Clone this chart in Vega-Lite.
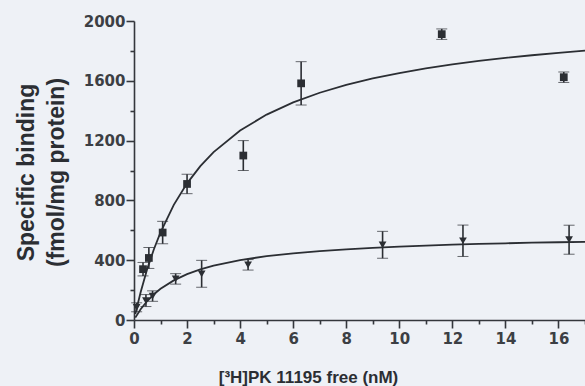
{
  "$schema": "https://vega.github.io/schema/vega-lite/v6.json",
  "autosize": {"type": "none"},
  "padding": {"left": 134, "top": 21, "right": 0, "bottom": 66},
  "width": 451,
  "height": 299,
  "background": "#eef1f6",
  "config": {
    "view": {"stroke": null},
    "axis": {"labelFont": "DejaVu Sans", "titleFont": "Liberation Sans", "labelColor": "#3c3f44", "titleColor": "#2b2e33", "domainColor": "#34373c", "tickColor": "#34373c", "grid": false, "domainWidth": 1.6, "tickWidth": 1.6}
  },
  "datasets": {
    "pts": [
      {"series": "A", "x": 0.34, "y": 340, "err": 45},
      {"series": "A", "x": 0.56, "y": 415, "err": 70},
      {"series": "A", "x": 1.08, "y": 585, "err": 75},
      {"series": "A", "x": 2.0, "y": 910, "err": 65},
      {"series": "A", "x": 4.12, "y": 1100, "err": 100},
      {"series": "A", "x": 6.3, "y": 1583, "err": 145},
      {"series": "A", "x": 11.6, "y": 1912, "err": 35},
      {"series": "A", "x": 16.2, "y": 1624, "err": 35},
      {"series": "B", "x": 0.1, "y": 85, "err": 30},
      {"series": "B", "x": 0.45, "y": 130, "err": 40},
      {"series": "B", "x": 0.7, "y": 160, "err": 35},
      {"series": "B", "x": 1.57, "y": 275, "err": 35},
      {"series": "B", "x": 2.55, "y": 309, "err": 90},
      {"series": "B", "x": 4.3, "y": 369, "err": 35},
      {"series": "B", "x": 9.37, "y": 503, "err": 90},
      {"series": "B", "x": 12.4, "y": 530, "err": 105},
      {"series": "B", "x": 16.4, "y": 537, "err": 97}
    ],
    "curves": [
      {"series": "A", "x": 0.05, "y": 40}, {"series": "A", "x": 0.25, "y": 186}, {"series": "A", "x": 0.5, "y": 342}, {"series": "A", "x": 0.75, "y": 473}, {"series": "A", "x": 1, "y": 586}, {"series": "A", "x": 1.5, "y": 770}, {"series": "A", "x": 2, "y": 914}, {"series": "A", "x": 2.5, "y": 1029}, {"series": "A", "x": 3, "y": 1123}, {"series": "A", "x": 4, "y": 1268}, {"series": "A", "x": 5, "y": 1374}, {"series": "A", "x": 6, "y": 1456}, {"series": "A", "x": 7, "y": 1520}, {"series": "A", "x": 8, "y": 1573}, {"series": "A", "x": 9, "y": 1616}, {"series": "A", "x": 10, "y": 1652}, {"series": "A", "x": 11, "y": 1683}, {"series": "A", "x": 12, "y": 1710}, {"series": "A", "x": 13, "y": 1733}, {"series": "A", "x": 14, "y": 1753}, {"series": "A", "x": 15, "y": 1771}, {"series": "A", "x": 16, "y": 1787}, {"series": "A", "x": 17, "y": 1802},
      {"series": "B", "x": 0.05, "y": 16}, {"series": "B", "x": 0.25, "y": 72}, {"series": "B", "x": 0.5, "y": 127}, {"series": "B", "x": 0.75, "y": 172}, {"series": "B", "x": 1, "y": 209}, {"series": "B", "x": 1.5, "y": 265}, {"series": "B", "x": 2, "y": 307}, {"series": "B", "x": 2.5, "y": 338}, {"series": "B", "x": 3, "y": 364}, {"series": "B", "x": 4, "y": 401}, {"series": "B", "x": 5, "y": 427}, {"series": "B", "x": 6, "y": 446}, {"series": "B", "x": 7, "y": 461}, {"series": "B", "x": 8, "y": 473}, {"series": "B", "x": 9, "y": 483}, {"series": "B", "x": 10, "y": 491}, {"series": "B", "x": 11, "y": 498}, {"series": "B", "x": 12, "y": 504}, {"series": "B", "x": 13, "y": 509}, {"series": "B", "x": 14, "y": 513}, {"series": "B", "x": 15, "y": 517}, {"series": "B", "x": 16, "y": 520}, {"series": "B", "x": 17, "y": 523}
    ]
  },
  "encoding": {
    "x": {"field": "x", "type": "quantitative", "scale": {"domain": [0, 17], "nice": false},
      "axis": {"values": [0, 1, 2, 3, 4, 5, 6, 7, 8, 9, 10, 11, 12, 13, 14, 15, 16, 17],
        "labelExpr": "datum.value % 2 == 0 ? datum.label : ''",
        "tickSize": {"expr": "datum.value % 2 == 0 ? 8 : 4"},
        "labelFontSize": 15, "labelFontWeight": "bold", "labelPadding": 3, "labelBound": false, "labelFlush": false, "labelOverlap": false,
        "title": "[³H]PK 11195 free (nM)", "titleFontSize": 17, "titleFontWeight": "bold",
        "titleX": 174, "titleY": 62, "titleBaseline": "alphabetic", "titleAnchor": null}},
    "y": {"field": "y", "type": "quantitative", "scale": {"domain": [0, 2000], "nice": false},
      "axis": {"values": [0, 200, 400, 600, 800, 1000, 1200, 1400, 1600, 1800, 2000],
        "labelExpr": "datum.value % 400 == 0 ? format(datum.value, 'd') : ''",
        "tickSize": {"expr": "datum.value % 400 == 0 ? 8 : 4"},
        "labelFontSize": 15, "labelFontWeight": "bold", "labelPadding": 1, "labelOverlap": false, "labelFlush": false,
        "title": ["Specific binding", "(fmol/mg protein)"], "titleFontSize": 23, "titleFontWeight": "bold", "titleLineHeight": 30,
        "titleAngle": -90, "titleX": -108, "titleY": 151, "titleAlign": "center", "titleBaseline": "middle"}}
  },
  "layer": [
    {
      "data": {"name": "curves"},
      "mark": {"type": "line", "color": "#2b2e33", "strokeWidth": 1.8, "clip": true},
      "encoding": {"detail": {"field": "series"}}
    },
    {
      "data": {"name": "pts"},
      "mark": {"type": "errorbar", "ticks": {"size": 11, "color": "#2b2e33", "strokeWidth": 2.2}, "rule": {"color": "#2b2e33", "strokeWidth": 1.6}},
      "encoding": {
        "yError": {"field": "err"},
        "detail": {"field": "series"}
      }
    },
    {
      "data": {"name": "pts"},
      "mark": {"type": "point", "filled": true, "opacity": 1, "color": "#2b2e33", "size": 60},
      "encoding": {
        "shape": {"field": "series", "type": "nominal", "scale": {"domain": ["A", "B"], "range": ["square", "triangle-down"]}, "legend": null}
      }
    }
  ]
}
